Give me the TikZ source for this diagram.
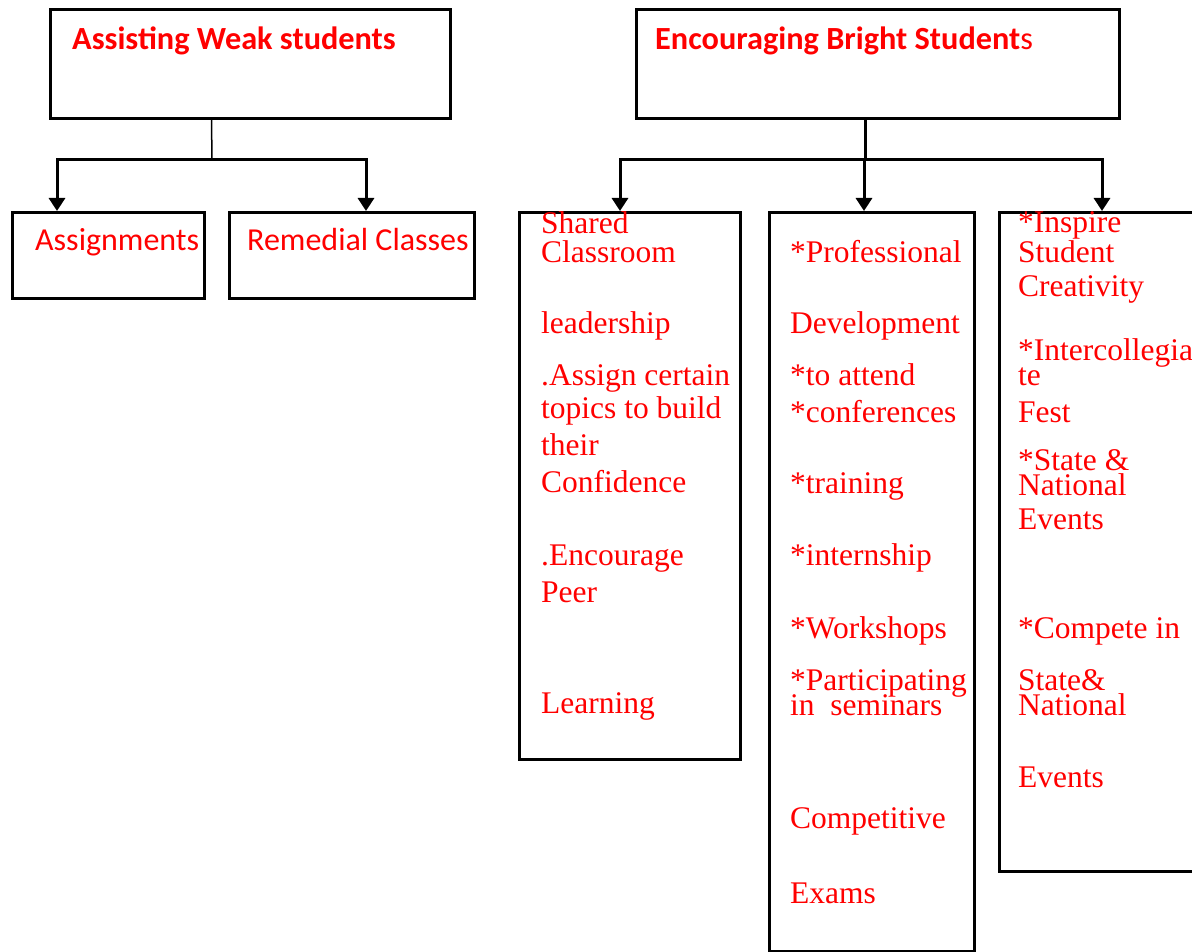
\documentclass[tikz,border=0pt]{standalone}
\usepackage{fontspec}
\setmainfont{Liberation Serif}
\newfontfamily\calib{Carlito}
\usetikzlibrary{arrows.meta}
\begin{document}
\begin{tikzpicture}[x=1pt,y=-1pt,
  box/.style={draw=black,line width=3pt,rectangle,inner sep=0pt,anchor=north west},
  hd/.style={anchor=base west,inner sep=0pt,text=red,font=\calib\bfseries\fontsize{32.3}{36}\selectfont},
  sub/.style={anchor=base west,inner sep=0pt,text=red,font=\calib\fontsize{32}{36}\selectfont},
  itm/.style={anchor=base west,inner sep=0pt,text=red,font=\fontsize{31.5}{36}\selectfont},
  conn/.style={line width=3pt,draw=black},
  arr/.style={conn,-{Triangle[length=13pt,width=16pt]}}
]
\clip (0,0) rectangle (1192,952);
\fill[white] (0,0) rectangle (1192,952);

% boxes
\node[box,minimum width=400pt,minimum height=109pt] (weak) at (49,8) {};
\node[box,minimum width=483pt,minimum height=109pt] (enc) at (635,8) {};
\node[box,minimum width=192pt,minimum height=86pt] (assign) at (11,211) {};
\node[box,minimum width=245pt,minimum height=86pt] (remed) at (228,211) {};
\node[box,minimum width=221pt,minimum height=547pt] (shared) at (518,211) {};
\node[box,minimum width=205pt,minimum height=739pt] (prof) at (768,211) {};
\node[box,minimum width=260pt,minimum height=659pt] (insp) at (998,211) {};

% headings
\node[hd] (weakt) at (72,50) {Assisting Weak students};
\node[hd] (enct) at (655,50) {Encouraging Bright Student{\mdseries s}};
\node[sub] (assignt) at (35,251) {Assignments};
\node[sub] (remedt) at (247,251) {Remedial Classes};

% left connectors
\coordinate (wj) at (212,160);
\coordinate (wl) at (57,160);
\coordinate (wr) at (366,160);
\draw[line width=1.5pt] ([xshift=-39pt]weak.south) -- (wj);
\draw[conn,line cap=rect] (wl) -- (wr);
\draw[arr] (wl) -- (wl |- assign.north);
\draw[arr] (wr) -- (wr |- remed.north);

% right connectors
\coordinate (ej) at (865,160);
\coordinate (el) at (620,160);
\coordinate (em) at (864,160);
\coordinate (er) at (1102,160);
\draw[conn] (enc.south -| ej) -- (ej);
\draw[conn,line cap=rect] (el) -- (er);
\draw[arr] (el) -- (el |- shared.north);
\draw[arr] (em) -- (em |- prof.north);
\draw[arr] (er) -- (er |- insp.north);

% column 1
\node[itm] (a1) at (541,234) {Shared};
\node[itm] (a2) at (541,262) {Classroom};
\node[itm] (a3) at (541,333) {leadership};
\node[itm] (a4) at (541,385) {.Assign certain};
\node[itm] (a5) at (541,418) {topics to build};
\node[itm] (a6) at (541,455) {their};
\node[itm] (a7) at (541,492) {Confidence};
\node[itm] (a8) at (541,565) {.Encourage};
\node[itm] (a9) at (541,602) {Peer};
\node[itm] (a10) at (541,713) {Learning};

% column 2
\node[itm] (b1) at (790,262) {*Professional};
\node[itm] (b2) at (790,333) {Development};
\node[itm] (b3) at (790,385) {*to attend};
\node[itm] (b4) at (790,422) {*conferences};
\node[itm] (b5) at (790,493) {*training};
\node[itm] (b6) at (790,565) {*internship};
\node[itm] (b7) at (790,638) {*Workshops};
\node[itm] (b8) at (790,690) {*Participating};
\node[itm] (b9) at (790,715) {in\ \ seminars};
\node[itm] (b10) at (790,828) {Competitive};
\node[itm] (b11) at (790,903) {Exams};

% column 3
\node[itm] (c1) at (1018,233) {*Inspire};
\node[itm] (c2) at (1018,262) {Student};
\node[itm] (c3) at (1018,296) {Creativity};
\node[itm] (c4) at (1018,360) {*Intercollegia};
\node[itm] (c5) at (1018,385) {te};
\node[itm] (c6) at (1018,422) {Fest};
\node[itm] (c7) at (1018,470) {*State \&};
\node[itm] (c8) at (1018,495) {National};
\node[itm] (c9) at (1018,529) {Events};
\node[itm] (c10) at (1018,638) {*Compete in};
\node[itm] (c11) at (1018,690) {State\&};
\node[itm] (c12) at (1018,715) {National};
\node[itm] (c13) at (1018,787) {Events};
\end{tikzpicture}
\end{document}
